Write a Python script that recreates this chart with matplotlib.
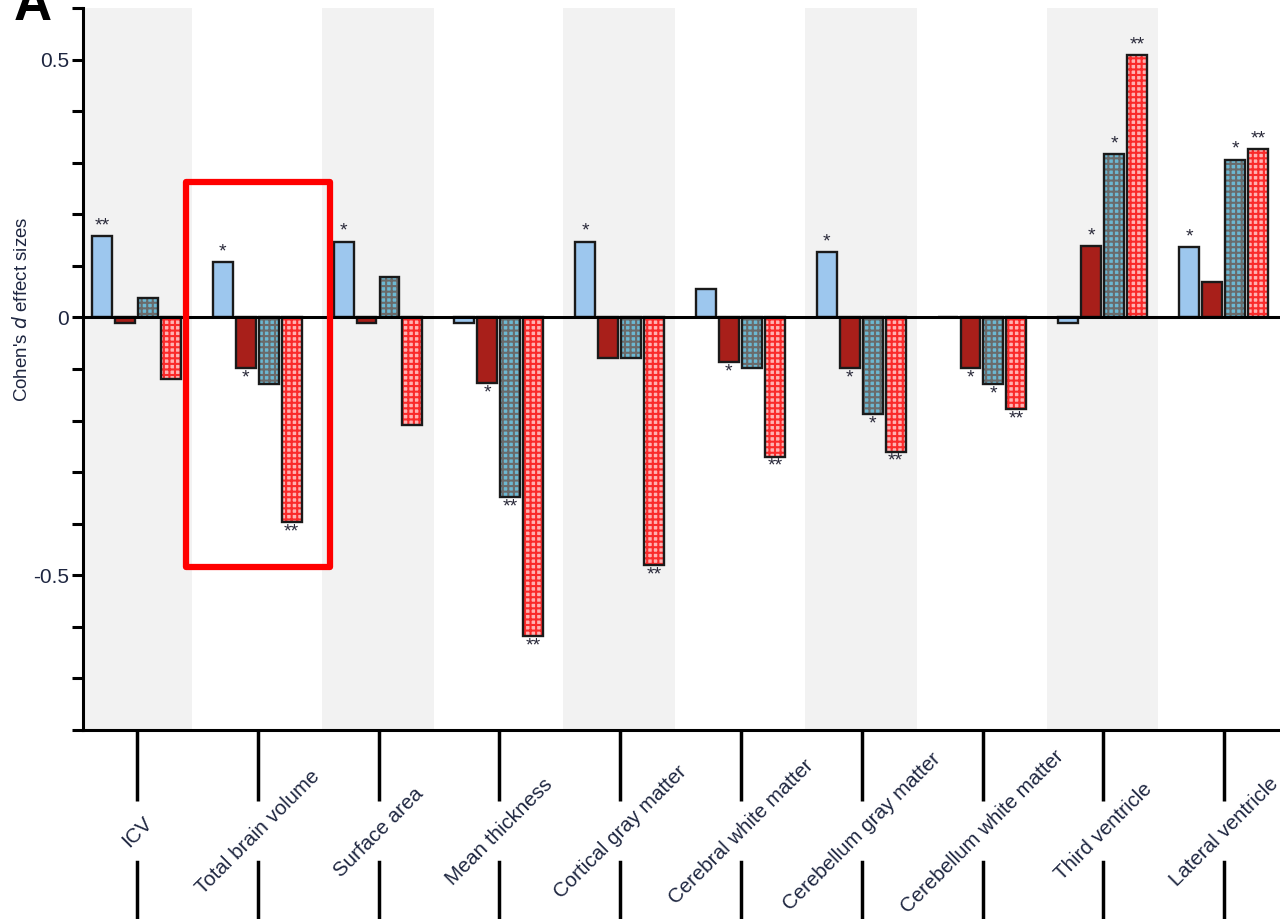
import numpy as np
import matplotlib.pyplot as plt
from matplotlib.patches import Rectangle
import matplotlib.transforms as mtransforms

plt.rcParams['font.family'] = ['Liberation Sans', 'DejaVu Sans']
plt.rcParams['hatch.linewidth'] = 1.5

categories = ['ICV', 'Total brain volume', 'Surface area', 'Mean thickness',
              'Cortical gray matter', 'Cerebral white matter', 'Cerebellum gray matter',
              'Cerebellum white matter', 'Third ventricle', 'Lateral ventricle']

# four groups of effect sizes per structure
s1 = [0.157, 0.107, 0.147, -0.01, 0.147, 0.056, 0.126, 0.0, -0.01, 0.136]
s2 = [-0.01, -0.099, -0.01, -0.128, -0.078, -0.087, -0.099, -0.099, 0.138, 0.068]
s3 = [0.037, -0.13, 0.078, -0.349, -0.078, -0.099, -0.188, -0.13, 0.316, 0.306]
s4 = [-0.12, -0.397, -0.209, -0.618, -0.48, -0.27, -0.26, -0.178, 0.508, 0.326]

stars1 = ['**', '*', '*', '', '*', '', '*', '', '', '*']
stars2 = ['', '*', '', '*', '', '*', '*', '*', '*', '']
stars3 = ['', '', '', '**', '', '', '*', '*', '*', '*']
stars4 = ['', '**', '', '**', '**', '**', '**', '**', '**', '**']

fig = plt.figure(figsize=(12.8, 9.19), dpi=100)
ax = fig.add_axes([83/1280, 189/919, 1197/1280, 722/919])

x = np.arange(len(categories))
ax.set_xlim(-0.447, 9.462)
ax.set_ylim(-0.8, 0.6)

# alternating shaded bands
for i in range(0, len(categories), 2):
    ax.axvspan(i - 0.47, i + 0.455, color='#f2f2f2', zorder=0, lw=0)

offsets = [-0.29, -0.10, 0.09, 0.28]
w = 0.165
series = [s1, s2, s3, s4]
stars = [stars1, stars2, stars3, stars4]
faces = ['#9dc7ee', '#a81f1a', '#6cb8d2', '#ffb2b2']
hatches = [None, None, '+++', '+++']
hcolors = [None, None, '#6a6a6a', '#fa2a2a']

for k in range(4):
    xs = x + offsets[k]
    if hatches[k]:
        ax.bar(xs, series[k], w, facecolor=faces[k], edgecolor=hcolors[k],
               hatch=hatches[k], linewidth=0, zorder=2)
        ax.bar(xs, series[k], w, fill=False, edgecolor='#1a1a1a', linewidth=1.7, zorder=3)
    else:
        ax.bar(xs, series[k], w, facecolor=faces[k], edgecolor='#1a1a1a', linewidth=1.7, zorder=3)
    for xi, v, st in zip(xs, series[k], stars[k]):
        if not st:
            continue
        if v >= 0:
            ax.text(xi, v + 0.004, st, ha='center', va='bottom', fontsize=14, color='#2a2a3a')
        else:
            ax.text(xi, v - 0.002, st, ha='center', va='top', fontsize=14, color='#2a2a3a')

ax.axhline(0, color='black', lw=2.2, zorder=4)

ax.spines['top'].set_visible(False)
ax.spines['right'].set_visible(False)
ax.spines['left'].set_linewidth(2.2)
ax.spines['bottom'].set_linewidth(2.2)

yt = np.round(np.arange(-0.8, 0.61, 0.1), 1)
ax.set_yticks(yt)
ax.set_yticklabels(['0.5' if v == 0.5 else '0' if v == 0 else '-0.5' if v == -0.5 else '' for v in yt])
ax.tick_params(axis='y', length=8, width=2.2, labelsize=15, labelcolor='#1e2640', pad=2)

# category ticks, broken around the rotated labels
ax.set_xticks(x)
ax.set_xticklabels([])
ax.tick_params(axis='x', length=51, width=2.5)
trans = mtransforms.blended_transform_factory(ax.transData, ax.transAxes)
for i, name in enumerate(categories):
    ax.plot([i, i], [-132/722, -0.3], color='black', lw=2.5, transform=trans, clip_on=False)
    ax.text(i, -102/722, name, rotation=45, ha='center', va='center', fontsize=14.8,
            color='#1e2640', transform=trans, rotation_mode='anchor')

# highlight box
ax.add_patch(Rectangle((0.405, -0.484), 1.19, 0.746, fill=False, edgecolor='#ff0000',
                       linewidth=4.5, joinstyle='round', zorder=6, clip_on=False))

fig.text(22/1280, 1 - 309/919, "Cohen's $\\it{d}$ effect sizes", rotation=90,
         ha='center', va='center', fontsize=13.5, color='#1e2640')
fig.text(14/1280, 1 - 20/919, 'A', fontsize=38, fontweight='bold', ha='left', va='baseline')

fig.savefig('out.png', dpi=100)
